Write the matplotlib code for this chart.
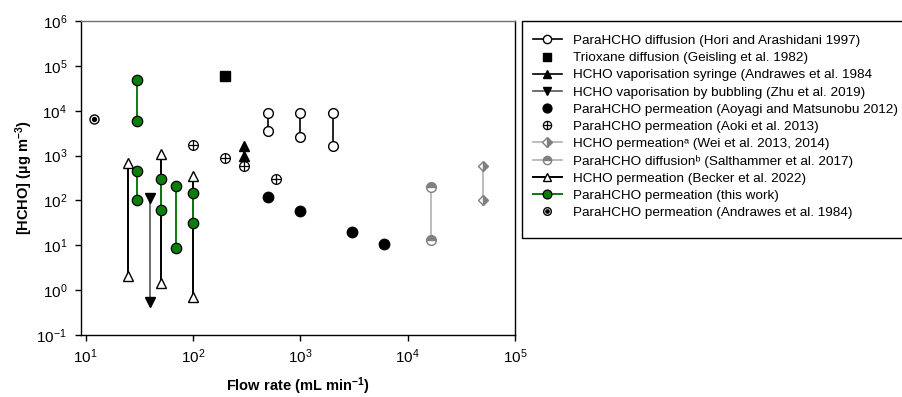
import matplotlib
matplotlib.use("Agg")
import matplotlib.pyplot as plt
from matplotlib.patches import Rectangle

# Schrift
plt.rcParams['font.family'] = ['Liberation Sans', 'DejaVu Sans']
plt.rcParams['mathtext.fontset'] = 'custom'
plt.rcParams['mathtext.rm'] = 'Liberation Sans'
plt.rcParams['mathtext.it'] = 'Liberation Sans:italic'
plt.rcParams['mathtext.bf'] = 'Liberation Sans:bold'

# Daten (Flussrate mL/min, [HCHO] ug/m3), Paare = obere/untere Grenze
hori_x = [500, 1000, 2000]
hori_hi = [8800, 9000, 9000]
hori_lo = [3500, 2600, 1600]

trioxane_x = [200]
trioxane_y = [60000]

syringe_x = [300]
syringe_hi = [1600]
syringe_lo = [1000]

bubbling_x = [40]
bubbling_hi = [111]
bubbling_lo = [0.55]

aoyagi_x = [500, 1000, 3000, 6000]
aoyagi_y = [117, 57, 19.6, 10.5]

aoki_x = [100, 200, 300, 600]
aoki_y = [1750, 900, 600, 295]

wei_x = [50000]
wei_hi = [600]
wei_lo = [100]

salt_x = [16500]
salt_hi = [195]
salt_lo = [13]

becker_x = [25, 50, 100]
becker_hi = [680, 1100, 350]
becker_lo = [2.05, 1.43, 0.72]

work_x = [30, 30, 50, 70, 100]
work_hi = [49000, 450, 295, 205, 143]
work_lo = [6000, 100, 62, 8.6, 32]

andrawes_x = [12]
andrawes_y = [6600]

labels = [
    "ParaHCHO diffusion (Hori and Arashidani 1997)",
    "Trioxane diffusion (Geisling et al. 1982)",
    "HCHO vaporisation syringe (Andrawes et al. 1984",
    "HCHO vaporisation by bubbling (Zhu et al. 2019)",
    "ParaHCHO permeation (Aoyagi and Matsunobu 2012)",
    "ParaHCHO permeation (Aoki et al. 2013)",
    "HCHO permeation\u1d43 (Wei et al. 2013, 2014)",
    "ParaHCHO diffusion\u1d47 (Salthammer et al. 2017)",
    "HCHO permeation (Becker et al. 2022)",
    "ParaHCHO permeation (this work)",
    "ParaHCHO permeation (Andrawes et al. 1984)",
]


def Paare(ax, x, hi, lo, **kw):
    # vertikale Linie mit Markern an beiden Enden
    h = None
    for xi, a, b in zip(x, hi, lo):
        h, = ax.plot([xi, xi], [a, b], **kw)
    return h


# Diagrammgröße
fig = plt.figure(figsize=(9.03, 3.97), dpi=100)
ax = fig.add_axes([81 / 903, 1 - 335 / 397, (515 - 81) / 903, (335 - 21) / 397])

grau = "#808080"
hellgrau = "#b0b0b0"
gruen = "#0a7d0a"

h_hori = Paare(ax, hori_x, hori_hi, hori_lo, color="black", lw=1.2, marker="o", ms=7,
               mfc="white", mec="black", mew=1.0, zorder=3)
h_tri, = ax.plot(trioxane_x, trioxane_y, ls="none", marker="s", ms=6.5, color="black", zorder=3)
h_syr = Paare(ax, syringe_x, syringe_hi, syringe_lo, color="black", lw=1.2, marker="^", ms=6.5,
              mfc="black", mec="black", zorder=3)
h_bub = Paare(ax, bubbling_x, bubbling_hi, bubbling_lo, color="#555555", lw=1.2, marker="v", ms=7,
              mfc="black", mec="black", zorder=3)
h_aoy, = ax.plot(aoyagi_x, aoyagi_y, ls="none", marker="o", ms=7.5, color="black", zorder=3)
h_aok1, = ax.plot(aoki_x, aoki_y, ls="none", marker="o", ms=7, mfc="white", mec="black", mew=0.9, zorder=3)
h_aok2, = ax.plot(aoki_x, aoki_y, ls="none", marker="+", ms=7, mec="black", mew=0.9, zorder=4)
h_wei = Paare(ax, wei_x, wei_hi, wei_lo, color=hellgrau, lw=1.2, marker="D", ms=5.5, fillstyle="right",
              mfc=grau, mfcalt="white", mec=grau, zorder=3)
h_salt = Paare(ax, salt_x, salt_hi, salt_lo, color=hellgrau, lw=1.2, marker="o", ms=7, fillstyle="top",
               mfc=grau, mfcalt="white", mec=grau, zorder=3)
h_beck = Paare(ax, becker_x, becker_hi, becker_lo, color="black", lw=1.4, marker="^", ms=7,
               mfc="white", mec="black", mew=1.0, zorder=3)
h_work = Paare(ax, work_x, work_hi, work_lo, color=gruen, lw=1.4, marker="o", ms=7.5,
               mfc=gruen, mec="black", mew=0.9, zorder=4)
h_and1, = ax.plot(andrawes_x, andrawes_y, ls="none", marker="o", ms=6.5, mfc="white", mec="black", mew=1.0, zorder=3)
h_and2, = ax.plot(andrawes_x, andrawes_y, ls="none", marker="o", ms=2.8, color="black", zorder=4)

# Achsen
ax.set_xscale("log")
ax.set_yscale("log")
ax.set_xlim(10 ** 0.957, 1e5)
ax.set_ylim(1e-1, 1e6)
ax.minorticks_off()
ax.tick_params(axis="both", which="major", direction="out", length=4, width=1, labelsize=11)
ax.tick_params(axis="x", pad=5)
ax.tick_params(axis="y", pad=6)
ax.spines["top"].set_color("#707070")
for s in ax.spines.values():
    s.set_linewidth(1.0)

# Label
ax.set_xlabel("Flow rate (mL min$^{\\mathbf{-1}}$)", fontsize=10.5, fontweight="bold")
ax.set_ylabel("[HCHO] (µg m$^{\\mathbf{-3}}$)", fontsize=10.5, fontweight="bold")
ax.xaxis.set_label_coords(0.5, -0.13)
ax.yaxis.set_label_coords(-0.105, 0.5)

# Legende
handles = [h_hori, h_tri, h_syr, h_bub, h_aoy, (h_aok1, h_aok2), h_wei, h_salt, h_beck, h_work, (h_and1, h_and2)]
fig.legend(handles, labels, loc="upper left", bbox_to_anchor=(526 / 903, 1 - 28 / 397),
           bbox_transform=fig.transFigure, frameon=False, fontsize=9.7, numpoints=1,
           handlelength=2.15, handletextpad=0.85, labelspacing=0.35, borderpad=0, markerscale=0.85)
fig.patches.append(Rectangle((522 / 903, 1 - 238 / 397), 400 / 903, 217 / 397, transform=fig.transFigure,
                             fill=False, edgecolor="black", lw=1.0))

# fertiges Produkt
plt.savefig("out.png", dpi=100)
